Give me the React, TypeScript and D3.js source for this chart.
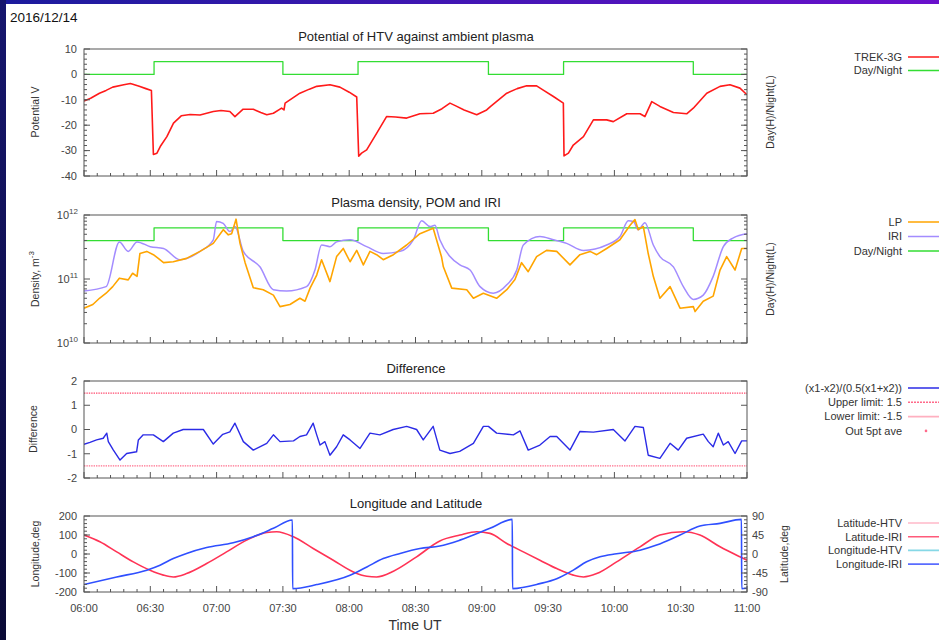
import React, { useEffect, useRef } from "react";
import * as d3 from "d3";

// time axis: minutes after 06:00 UT
const timeLabels = ["06:00", "06:30", "07:00", "07:30", "08:00", "08:30", "09:00", "09:30", "10:00", "10:30", "11:00"];

// day/night switch times and level (1 = day, 0 = night)
const dayNightTimes = [0, 31.7, 90, 124, 183, 217, 275.7, 300];
const dayNightLevels = [0, 1, 0, 1, 0, 1, 0, 0];

// potential of HTV, V
const trek3g: [number, number][] = [
  [0, -10.5], [3, -9.4], [7, -7.4], [10, -6.3], [13, -5], [18, -4.1], [21, -3.6], [25, -4.7], [28, -5.6], [30.5, -6.3],
  [31.4, -31.5], [33, -31], [34.5, -28.4], [37.5, -24.5], [40.5, -19.2], [44, -16.3], [48, -15.8], [52.5, -16],
  [58.5, -14.6], [62, -14.2], [66, -14.6], [68.3, -16.6], [72, -13.7], [76.6, -13.7], [80, -15], [82.7, -15.9],
  [85.7, -15.3], [89.4, -13.3], [90.5, -14], [91, -11.3], [97.7, -7.4], [102, -5.8], [105.3, -4.7], [111.3, -4.1],
  [115.8, -5], [120, -7], [123.4, -8.9], [124.3, -32.2], [125.6, -31], [127.9, -29.7], [132.4, -23.2], [136.9, -16.6],
  [141, -16.8], [146, -17.2], [152, -15.5], [158, -15.3], [162, -13.5], [165.6, -11.3], [168, -12.3], [172, -14],
  [177.7, -15.9], [182.2, -14], [184, -12.6], [191.3, -7.4], [196, -5.6], [200.3, -4.5], [204.8, -4.5], [208, -6.3],
  [212.4, -8.7], [216.9, -11.3], [217.2, -32.1], [219.2, -31], [221.4, -27.8], [226, -24.5], [230.5, -17.9],
  [236.5, -17.9], [239.5, -18.6], [245.6, -15.5], [251.6, -15.5], [253.8, -16.6], [256.9, -10.7], [260.6, -12.6],
  [266.7, -15], [272.7, -15.5], [275.7, -13.3], [281.8, -7.4], [287.8, -4.7], [292.3, -4.1], [296.8, -5.4], [300, -8]
];

// plasma density, m^-3
const lpDensity: [number, number][] = [
  [0, 3.5e10], [4, 4.0e10], [7, 5.0e10], [10, 6.0e10], [13, 7.6e10], [16, 1.03e11], [20, 9.7e10], [22, 1.23e11],
  [24, 1.1e11], [25.3, 2.5e11], [28.4, 2.7e11], [31.4, 2.4e11], [33.6, 2.1e11], [36, 1.8e11], [40.4, 1.86e11],
  [46.4, 2.1e11], [52.5, 2.7e11], [58.5, 3.6e11], [63, 5.9e11], [65.3, 4.9e11], [66.8, 5.1e11], [68.8, 8.6e11],
  [70.6, 3.6e11], [72.9, 1.8e11], [76.6, 7.3e10], [81.1, 6.8e10], [85.7, 5.6e10], [88.7, 3.7e10], [93.2, 4.0e10],
  [97.7, 5.0e10], [100, 4.5e10], [102.3, 7.2e10], [105.3, 1.15e11], [107.5, 2.0e11], [111.3, 9.1e10],
  [114.3, 2.24e11], [117.3, 3.0e11], [120.4, 1.86e11], [123.4, 2.8e11], [126.4, 1.66e11], [129.4, 2.7e11],
  [132.4, 2.4e11], [135.4, 2.0e11], [140, 2.4e11], [146, 3.4e11], [152, 5.1e11], [158, 6.2e11], [161.8, 2.2e11],
  [162.6, 1.55e11], [166.4, 7.2e10], [173.2, 6.8e10], [176.2, 5.0e10], [180.7, 6.0e10], [186.7, 5.0e10],
  [191.3, 6.8e10], [195, 9.8e10], [198, 1.8e11], [201, 1.3e11], [204.8, 2.24e11], [209.3, 2.8e11], [213.9, 2.7e11],
  [219.9, 1.66e11], [224.4, 2.4e11], [229, 2.7e11], [232, 2.4e11], [236.5, 3.0e11], [242.5, 4.1e11], [247.1, 6.9e11],
  [249.3, 8.5e11], [250.8, 5.9e11], [253.1, 6.6e11], [255.3, 2.5e11], [257.6, 1.1e11], [260.6, 5.0e10],
  [265.2, 7.6e10], [269.7, 3.5e10], [275.7, 3.7e10], [276.5, 3.1e10], [280.2, 4.5e10], [284.7, 5.4e10],
  [287.8, 1.38e11], [290.8, 2.24e11], [294.6, 1.38e11], [297.6, 3.0e11], [300, 3.0e11]
];

const iriDensity: [number, number][] = [
  [0, 6.5e10], [10, 7.6e10], [16, 3.8e11], [20, 2.7e11], [24, 3.8e11], [30, 3.2e11], [36, 3.0e11], [43.4, 2.0e11],
  [52.5, 2.7e11], [58.5, 4.1e11], [60, 7.9e11], [63, 7.4e11], [66, 5.5e11], [68.3, 6.6e11], [72.1, 2.7e11],
  [79.6, 1.55e11], [85.7, 6.8e10], [91.7, 6.5e10], [100.7, 7.6e10], [104.5, 1.38e11], [107.5, 3.4e11],
  [111.3, 3.2e11], [114.3, 3.8e11], [120.4, 4.1e11], [127.9, 3.2e11], [135.4, 2.5e11], [143, 2.7e11], [149, 4.1e11],
  [152.8, 8.1e11], [156.6, 6.6e11], [158.8, 6.9e11], [161, 4.1e11], [165.6, 2.24e11], [170.1, 1.66e11],
  [174.7, 1.38e11], [179.2, 7.6e10], [185.2, 6.0e10], [191.3, 8.1e10], [195.8, 1.38e11], [198.8, 3.4e11],
  [206.3, 4.6e11], [212.4, 4.1e11], [218.4, 3.6e11], [226, 2.8e11], [236.5, 3.4e11], [242.5, 4.6e11],
  [246.3, 8.1e11], [248.6, 7.9e11], [250.8, 5.9e11], [253.8, 7.6e11], [257.6, 3.4e11], [260.6, 2.24e11],
  [266.7, 1.55e11], [271.2, 7.6e10], [275.7, 4.8e10], [280.2, 5.6e10], [284.7, 1.1e11], [289.3, 3.2e11],
  [293.8, 4.4e11], [300, 5.1e11]
];

// (x1-x2)/(0.5(x1+x2))
const difference: [number, number][] = [
  [0, -0.61], [2.7, -0.53], [5.7, -0.43], [8.7, -0.36], [10.3, -0.15], [11, -0.5], [13.3, -0.85], [16.3, -1.26],
  [19.3, -0.99], [23.8, -0.92], [24.6, -0.43], [26.8, -0.22], [31.4, -0.22], [35.9, -0.5], [40.4, -0.15], [44.9, 0],
  [54, 0], [58.5, -0.6], [62.8, -0.2], [66, -0.1], [68.3, 0.26], [72.1, -0.5], [76.6, -0.85], [82.7, -0.57],
  [85.7, -0.22], [88.7, -0.5], [94.8, -0.47], [97.7, -0.29], [100.7, -0.22], [103.7, 0.26], [105.3, -0.22],
  [106.8, -0.64], [109, -0.5], [111.3, -1.06], [114.3, -0.71], [117.3, -0.22], [120.4, -0.43], [124.9, -0.78],
  [129.4, -0.15], [133.9, -0.22], [139.9, 0], [146, 0.13], [150.5, 0], [153.5, -0.43], [158, 0.13], [161, -0.85],
  [165.6, -0.99], [170, -0.9], [176.2, -0.57], [180.7, 0.13], [183, 0.13], [186.7, -0.15], [194.3, -0.22],
  [197.3, -0.06], [201, -0.85], [206.3, -0.64], [210.9, -0.29], [213.9, -0.29], [219.9, -0.85], [224.4, -0.08],
  [230.5, -0.11], [239.5, 0], [244.8, -0.47], [249.3, 0.13], [253.1, 0.08], [255.3, -1.06], [260.6, -1.19],
  [265.2, -0.57], [268.9, -0.85], [272.7, -0.36], [280.2, -0.19], [282.5, -0.5], [284.7, -0.71], [287, -0.15],
  [289.3, -0.64], [291.5, -0.5], [294.6, -0.99], [297.6, -0.47], [300, -0.47]
];
const upperLimit = 1.5;
const lowerLimit = -1.5;

// longitude (deg, left axis) and latitude (deg, right axis)
const longitudeIri: [number, number][] = [
  [0, -161], [14.8, -121], [28.4, -85], [34.4, -59], [40.4, -24], [46.4, 3], [55.5, 34], [67.5, 59], [76.6, 91],
  [85.7, 135], [94.3, 179], [94.4, -182], [105.3, -161], [120.4, -112], [128, -68], [135.4, -24], [143, 3], [152, 29],
  [161, 42], [170.1, 73], [183.7, 135], [193.8, 182], [193.9, -182], [206.3, -156], [213.9, -130], [221.4, -85],
  [227.4, -41], [233.5, -15], [241, 1], [251.6, 20], [259.1, 47], [269.7, 100], [278.7, 147], [287.8, 161],
  [297.5, 182], [297.6, -182], [300, -180]
];
const latitudeIri: [number, number][] = [
  [0, 44.8], [7.2, 29], [14.8, 5], [22.3, -18.6], [29.9, -38.5], [35.9, -50], [40.4, -54.3], [46.4, -46.4],
  [55.5, -22.6], [64.5, 5], [73.6, 32.9], [82.7, 51], [87.2, 52.7], [94.8, 40.8], [103.7, 13], [112.8, -14.7],
  [121.9, -42.4], [128, -52.7], [132.4, -54.3], [140, -40.8], [150.5, -6.7], [161, 31], [170.1, 44.8], [177.7, 52.7],
  [183.7, 48.8], [191.3, 25], [198.8, 5], [206.3, -14.7], [213.9, -34.5], [221.4, -50], [226, -54.3], [232, -46.4],
  [241, -18.6], [251.6, 17], [260.6, 44.8], [271.2, 52.7], [278.7, 44.8], [287.8, 17], [296.8, -6.7], [300, -14.7]
];

const FONT = "'Liberation Sans', Arial, sans-serif";

const App = () => {
  const svgRef = useRef(null);

  useEffect(() => {
    const svg = d3.select(svgRef.current);
    svg.selectAll("*").remove();
    svg.attr("font-family", FONT);

    const defs = svg.append("defs");
    const topBand = defs.append("linearGradient").attr("id", "topBand");
    topBand.append("stop").attr("offset", "0%").attr("stop-color", "#1b1b9c");
    topBand.append("stop").attr("offset", "100%").attr("stop-color", "#6a10cc");
    const leftBand = defs.append("linearGradient").attr("id", "leftBand")
      .attr("x1", 0).attr("x2", 0).attr("y1", 0).attr("y2", 1);
    leftBand.append("stop").attr("offset", "0%").attr("stop-color", "#16166e");
    leftBand.append("stop").attr("offset", "100%").attr("stop-color", "#0a0a36");

    svg.append("rect").attr("width", 939).attr("height", 640).attr("fill", "#fff");
    svg.append("rect").attr("width", 939).attr("height", 4).attr("fill", "url(#topBand)");
    svg.append("rect").attr("width", 6).attr("height", 640).attr("fill", "url(#leftBand)");

    const left = 84, right = 747;
    const x = d3.scaleLinear().domain([0, 300]).range([left, right]);

    svg.append("text").attr("x", 10).attr("y", 22).attr("font-size", 13.5).attr("fill", "#111")
      .text("2016/12/14");

    const panel = (id, top, bottom, title) => {
      const g = svg.append("g");
      defs.append("clipPath").attr("id", id).append("rect")
        .attr("x", left).attr("y", top).attr("width", right - left).attr("height", bottom - top);
      g.append("text").attr("x", 416).attr("y", top - 8).attr("text-anchor", "middle")
        .attr("font-size", 13).attr("fill", "#222").text(title);
      d3.range(0, 301, 6).forEach(t => {
        const major = t % 30 === 0;
        g.append("line").attr("x1", x(t)).attr("x2", x(t))
          .attr("y1", bottom).attr("y2", bottom - (major ? 6 : 3))
          .attr("stroke", "#555").attr("stroke-width", 1);
      });
      const plot = g.append("g").attr("clip-path", `url(#${id})`);
      return { g, plot, top, bottom };
    };

    const yTicks = (g, scale, values, len, side) => {
      values.forEach(v => {
        const y = scale(v);
        const x0 = side === "left" ? left : right;
        const x1 = side === "left" ? left + len : right - len;
        g.append("line").attr("x1", x0).attr("x2", x1).attr("y1", y).attr("y2", y)
          .attr("stroke", "#555").attr("stroke-width", 1);
      });
    };

    const yLabels = (g, scale, values, fmt = d => d) => {
      values.forEach(v => {
        g.append("text").attr("x", 77).attr("y", scale(v)).attr("dy", "0.35em")
          .attr("text-anchor", "end").attr("font-size", 11).attr("fill", "#444").text(fmt(v));
      });
    };

    const axisTitle = (g, xPos, yPos, label) => {
      return g.append("text").attr("transform", `translate(${xPos},${yPos}) rotate(-90)`)
        .attr("text-anchor", "middle").attr("font-size", 10.5).attr("fill", "#333").text(label);
    };

    const border = (p) => {
      p.g.append("rect").attr("x", left).attr("y", p.top).attr("width", right - left)
        .attr("height", p.bottom - p.top).attr("fill", "none").attr("stroke", "#555").attr("stroke-width", 1);
    };

    const drawLine = (p, data, xs, ys, color, width = 1.5, curve = d3.curveLinear) => {
      const line = d3.line().x(d => xs(d[0])).y(d => ys(d[1])).curve(curve);
      p.plot.append("path").datum(data).attr("d", line).attr("fill", "none")
        .attr("stroke", color).attr("stroke-width", width).attr("stroke-linejoin", "round");
    };

    const dayNight = dayNightTimes.map((t, i) => [t, dayNightLevels[i]]);

    const legend = (items, y0, step) => {
      items.forEach((it, i) => {
        const y = y0 + i * step;
        svg.append("text").attr("x", 902).attr("y", y).attr("dy", "0.35em").attr("text-anchor", "end")
          .attr("font-size", 11).attr("fill", "#333").text(it.label);
        if (it.dot) {
          svg.append("circle").attr("cx", 926).attr("cy", y).attr("r", 1.3).attr("fill", it.color);
        } else {
          svg.append("line").attr("x1", 908).attr("x2", 946).attr("y1", y).attr("y2", y)
            .attr("stroke", it.color).attr("stroke-width", 1.6)
            .attr("stroke-dasharray", it.dash || null);
        }
      });
    };

    // ---- panel 1: potential
    const p1 = panel("clip1", 49, 176, "Potential of HTV against ambient plasma");
    const y1 = d3.scaleLinear().domain([-40, 10]).range([176, 49]);
    const y1dn = d3.scaleLinear().domain([-8, 2]).range([176, 49]);
    yTicks(p1.g, y1, d3.range(-40, 11, 10), 6, "left");
    yTicks(p1.g, y1, d3.range(-38, 10, 2), 3, "left");
    yTicks(p1.g, y1, d3.range(-40, 11, 10), 6, "right");
    yTicks(p1.g, y1, d3.range(-38, 10, 2), 3, "right");
    yLabels(p1.g, y1, d3.range(-40, 11, 10));
    axisTitle(p1.g, 39, 112, "Potential V");
    axisTitle(p1.g, 774, 112, "Day(H)/Night(L)");
    drawLine(p1, dayNight, x, y1dn, "#33dd33", 1.3, d3.curveStepAfter);
    drawLine(p1, trek3g, x, y1, "#ff1a1a", 1.6);
    border(p1);
    legend([
      { label: "TREK-3G", color: "#ff1a1a" },
      { label: "Day/Night", color: "#33dd33" }
    ], 57, 13.5);

    // ---- panel 2: density
    const p2 = panel("clip2", 215, 343, "Plasma density, POM and IRI");
    const y2 = d3.scaleLog().domain([1e10, 1e12]).range([343, 215]);
    const y2dn = d3.scaleLinear().domain([-8, 2]).range([343, 215]);
    const decades = [1e10, 1e11, 1e12];
    const minorLog = [1e10, 1e11].flatMap(d => d3.range(2, 10).map(m => m * d));
    yTicks(p2.g, y2, decades, 6, "left");
    yTicks(p2.g, y2, minorLog, 3, "left");
    yTicks(p2.g, y2, decades, 6, "right");
    yTicks(p2.g, y2, minorLog, 3, "right");
    decades.forEach(v => {
      const t = p2.g.append("text").attr("x", 78).attr("y", y2(v)).attr("dy", "0.35em")
        .attr("text-anchor", "end").attr("font-size", 11).attr("fill", "#444");
      t.append("tspan").text("10");
      t.append("tspan").attr("font-size", 8).attr("dy", "-0.6em").text(Math.round(Math.log10(v)));
    });
    const dt = axisTitle(p2.g, 39, 279, "");
    dt.append("tspan").text("Density, m");
    dt.append("tspan").attr("font-size", 8).attr("dy", "-0.6em").text("-3");
    axisTitle(p2.g, 774, 279, "Day(H)/Night(L)");
    drawLine(p2, dayNight, x, y2dn, "#33dd33", 1.3, d3.curveStepAfter);
    drawLine(p2, iriDensity, x, y2, "#a38cff", 1.5, d3.curveMonotoneX);
    drawLine(p2, lpDensity, x, y2, "#ffa500", 1.6);
    border(p2);
    legend([
      { label: "LP", color: "#ffa500" },
      { label: "IRI", color: "#a38cff" },
      { label: "Day/Night", color: "#33dd33" }
    ], 222, 14.5);

    // ---- panel 3: difference
    const p3 = panel("clip3", 381, 478, "Difference");
    const y3 = d3.scaleLinear().domain([-2, 2]).range([478, 381]);
    yTicks(p3.g, y3, d3.range(-2, 3, 1), 6, "left");
    yTicks(p3.g, y3, d3.range(-2, 3, 1), 6, "right");
    yLabels(p3.g, y3, d3.range(-2, 3, 1));
    axisTitle(p3.g, 37, 429, "Difference");
    [upperLimit, lowerLimit].forEach((lim, i) => {
      p3.plot.append("line").attr("x1", x(0)).attr("x2", x(300)).attr("y1", y3(lim)).attr("y2", y3(lim))
        .attr("stroke", i === 0 ? "#ff4a6e" : "#ff6f8c").attr("stroke-width", 1.4)
        .attr("stroke-dasharray", "1.4,1");
    });
    drawLine(p3, difference, x, y3, "#2b2be6", 1.4);
    border(p3);
    legend([
      { label: "(x1-x2)/(0.5(x1+x2))", color: "#2b2be6" },
      { label: "Upper limit: 1.5", color: "#ff6a8a", dash: "2,1" },
      { label: "Lower limit: -1.5", color: "#ffb0c0" },
      { label: "Out 5pt ave", color: "#ff6a8a", dot: true }
    ], 388, 14.3);

    // ---- panel 4: longitude & latitude
    const p4 = panel("clip4", 516, 592, "Longitude and Latitude");
    const y4 = d3.scaleLinear().domain([-200, 200]).range([592, 516]);
    const y4lat = d3.scaleLinear().domain([-90, 90]).range([592, 516]);
    yTicks(p4.g, y4, d3.range(-200, 201, 100), 6, "left");
    yTicks(p4.g, y4, d3.range(-180, 200, 20), 3, "left");
    yTicks(p4.g, y4lat, d3.range(-90, 91, 45), 6, "right");
    yTicks(p4.g, y4lat, d3.range(-81, 90, 9), 3, "right");
    yLabels(p4.g, y4, d3.range(-200, 201, 100));
    d3.range(-90, 91, 45).forEach(v => {
      p4.g.append("text").attr("x", 752).attr("y", y4lat(v)).attr("dy", "0.35em")
        .attr("font-size", 11).attr("fill", "#444").text(v);
    });
    axisTitle(p4.g, 39, 554, "Longitude,deg");
    axisTitle(p4.g, 788, 554, "Latitude,deg");
    drawLine(p4, latitudeIri, x, y4lat, "#ff3355", 1.6, d3.curveMonotoneX);
    drawLine(p4, longitudeIri, x, y4, "#2f4fff", 1.6, d3.curveMonotoneX);
    border(p4);
    timeLabels.forEach((lab, i) => {
      p4.g.append("text").attr("x", x(i * 30)).attr("y", 612).attr("text-anchor", "middle")
        .attr("font-size", 11).attr("fill", "#444").text(lab);
    });
    p4.g.append("text").attr("x", 415).attr("y", 630).attr("text-anchor", "middle")
      .attr("font-size", 14).attr("fill", "#333").text("Time UT");
    legend([
      { label: "Latitude-HTV", color: "#ffb8c8" },
      { label: "Latitude-IRI", color: "#ff5a7a" },
      { label: "Longitude-HTV", color: "#86d8e6" },
      { label: "Longitude-IRI", color: "#5a6cff" }
    ], 523, 13.7);
  }, []);

  return (
    <svg
      ref={svgRef}
      width={939}
      height={640}
      style={{ position: "absolute", left: 0, top: 0 }}
    ></svg>
  );
};

export default App;
